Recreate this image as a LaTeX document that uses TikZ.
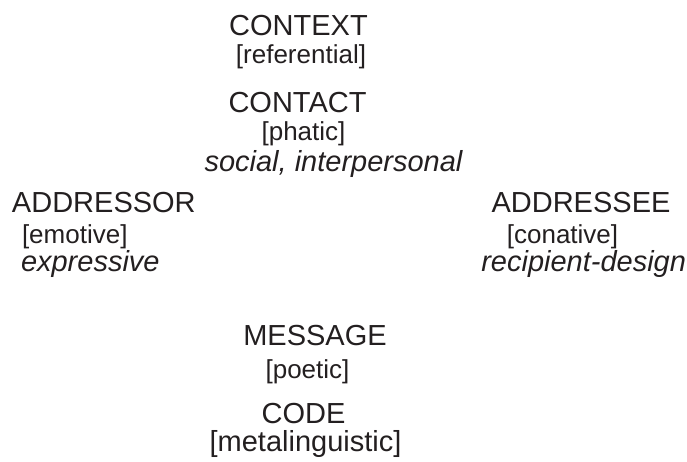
\documentclass[tikz,border=0pt]{standalone}
\usepackage{fontspec}
\setmainfont{Liberation Sans}
\definecolor{ink}{HTML}{231F20}
\begin{document}
\begin{tikzpicture}[x=1pt,y=-1pt,
  lbl/.style={inner sep=0pt, outer sep=0pt, text=ink, font=\fontsize{29}{34}\selectfont},
  fn/.style={lbl, font=\fontsize{26}{31}\selectfont},
  gloss/.style={lbl, font=\fontsize{29}{34}\selectfont\itshape}]
  \useasboundingbox (0,0) rectangle (687,462);
  % top: context and contact
  \node[lbl, anchor=base] (context) at (298.5,36) {CONTEXT};
  \node[fn, anchor=base] (referential) at (301,64) {[referential]};
  \node[lbl, anchor=base] (contact) at (297.5,113) {CONTACT};
  \node[fn, anchor=base] (phatic) at (303.5,141) {[phatic]};
  \node[gloss, anchor=base] (social) at (333.5,172) {social, interpersonal};
  % left: addressor
  \node[lbl, anchor=base west] (addressor) at (12,213) {ADDRESSOR};
  \node[fn, anchor=base west] (emotive) at (22,243) {[emotive]};
  \node[gloss, anchor=base west] (expressive) at (21,271) {expressive};
  % right: addressee
  \node[lbl, anchor=base] (addressee) at (581,213) {ADDRESSEE};
  \node[fn, anchor=base] (conative) at (562.5,243) {[conative]};
  \node[gloss, anchor=base east] (recipient) at (686,271) {recipient-design};
  % bottom: message and code
  \node[lbl, anchor=base] (message) at (315,345) {MESSAGE};
  \node[fn, anchor=base] (poetic) at (307.5,378) {[poetic]};
  \node[lbl, anchor=base] (code) at (303.5,423) {CODE};
  \node[lbl, anchor=base] (metaling) at (305.5,451) {[metalinguistic]};
\end{tikzpicture}
\end{document}
